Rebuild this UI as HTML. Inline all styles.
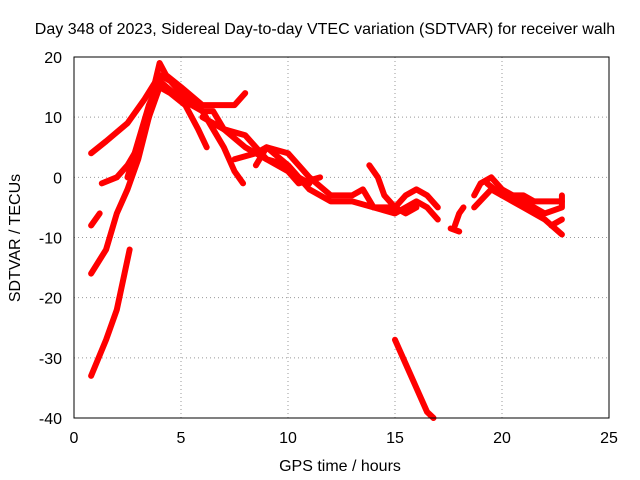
<!DOCTYPE html>
<html><head><meta charset="utf-8"><style>
body{margin:0;background:#fff}
svg{display:block;font-family:"Liberation Sans",sans-serif;font-size:16px}
</style></head><body>
<svg id="c" width="640" height="480">
<text x="325" y="34" text-anchor="middle">Day 348 of 2023, Sidereal Day-to-day VTEC variation (SDTVAR) for receiver walh</text>
<text x="340" y="471" text-anchor="middle">GPS time / hours</text>
<text transform="translate(20,238) rotate(-90)" text-anchor="middle">SDTVAR / TECUs</text>
<g id="grid"></g><g id="marks"></g>
<rect x="74" y="57" width="535" height="361" fill="none" stroke="#000"/>
</svg>
<script>
const xTicks=[0,5,10,15,20,25];
const yTicks=[20,10,0,-10,-20,-30,-40];
const s1=[[0.8,-33],[1.5,-27],[2,-22],[2.6,-12]];
const s2=[[0.8,-16],[1.5,-12],[2,-6],[2.5,-2],[3,3],[3.5,10],[3.8,16],[4,19],[4.3,17],[5,15],[6,12],[7,12],[7.5,12],[8,14]];
const s3=[[0.8,4],[1.5,6],[2.5,9],[3.3,13],[4,17],[4.5,16],[5,14],[5.5,13],[6,11],[6.5,11],[7,8],[8,7],[8.5,5],[9,3],[10,1],[10.5,-1],[11,-0.5],[11.5,0]];
const s4=[[0.8,-8],[1.2,-6]];
const s5=[[1.3,-1],[2,0],[2.5,2],[3,5],[3.5,10],[4,15],[4.5,14],[5.2,12],[5.8,8],[6.2,5]];
const s6=[[2.5,0],[3,6],[3.5,12],[4,16],[5,13],[6,11],[6.5,8],[7,5],[7.5,1],[7.9,-1]];
const s7=[[6,10],[7,8],[8,5],[9,3],[10,2],[10.5,0],[11,-1]];
const s8=[[7.5,3],[8.5,4],[9,5],[10,2],[11,-2],[12,-4],[13,-4],[14,-5],[15,-6],[16,-4],[16.5,-5],[17,-7]];
const s9=[[8.5,2],[9,5],[10,4],[10.5,2],[11,0],[12,-3],[13,-3],[13.5,-2],[14,-5],[15,-5],[15.5,-3],[16,-2],[16.5,-3],[17,-5]];
const s10=[[13.8,2],[14.2,0],[14.5,-3],[15,-5],[15.5,-6],[16,-5]];
const s11=[[17.8,-8],[18,-6],[18.2,-5]];
const s12=[[17.6,-8.5],[18,-9]];
const s13=[[15,-27],[15.5,-31],[16,-35],[16.5,-39],[16.8,-40]];
const s14=[[18.7,-3],[19,-1],[19.5,0],[20,-2],[21,-4],[22,-6],[22.8,-5],[22.8,-3]];
const s15=[[18.7,-5],[19.5,-2],[20,-3],[21,-3],[21.5,-4],[22,-4],[22.8,-4]];
const s16=[[19.3,-1],[20,-3],[21,-5],[22,-7],[22.8,-9.5]];
const s17=[[22.3,-8],[22.8,-7]];
const series=[s1,s2,s3,s4,s5,s6,s7,s8,s9,s10,s11,s12,s13,s14,s15,s16,s17];
const X=v=>74+v*535/25, Y=v=>57+(20-v)*361/60;
const NS='http://www.w3.org/2000/svg';
const g=document.getElementById('grid'), m=document.getElementById('marks');
function mk(t,a,p){const e=document.createElementNS(NS,t);for(const k in a)e.setAttribute(k,a[k]);p.appendChild(e);return e;}
xTicks.forEach(t=>{
 const l=mk('line',{x1:X(t),x2:X(t),y1:57,y2:418,stroke:'#999','stroke-dasharray':'1,3'},g);
 
 
 const tx=mk('text',{x:X(t),y:443,'text-anchor':'middle'},g);tx.textContent=t;
 
 
});
yTicks.forEach(t=>{
 const l=mk('line',{x1:74,x2:609,y1:Y(t),y2:Y(t),stroke:'#999','stroke-dasharray':'1,3'},g);
 
 
 const tx=mk('text',{x:62,y:Y(t)+6,'text-anchor':'end'},g);tx.textContent=t;
 
 
});
series.forEach((s,i)=>{
 const p=mk('polyline',{points:s.map(d=>X(d[0])+','+Y(d[1])).join(' '),fill:'none',stroke:'#f00','stroke-width':6,'stroke-linejoin':'round','stroke-linecap':'round'},m);
 
 
});
</script>
</body></html>
